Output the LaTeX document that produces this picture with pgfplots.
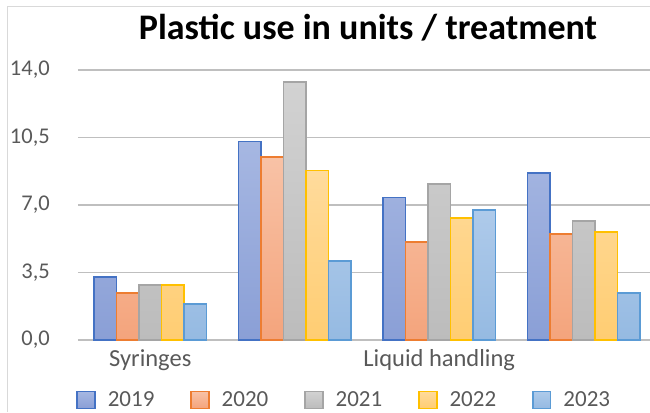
\documentclass[border=0pt]{standalone}
\usepackage{pgfplots}
\pgfplotsset{compat=1.18}
\usepackage{fontspec}
\setmainfont{Carlito}
\definecolor{txt}{HTML}{595959}
\definecolor{grid}{HTML}{D9D9D9}
\definecolor{eA}{HTML}{4472C4}\definecolor{tA}{HTML}{A6B7E2}\definecolor{bA}{HTML}{8A9FD6}
\definecolor{eB}{HTML}{ED7D31}\definecolor{tB}{HTML}{F8C2A6}\definecolor{bB}{HTML}{F4A47C}
\definecolor{eC}{HTML}{A5A5A5}\definecolor{tC}{HTML}{D2D2D2}\definecolor{bC}{HTML}{BCBCBC}
\definecolor{eD}{HTML}{FFC000}\definecolor{tD}{HTML}{FFDB9C}\definecolor{bD}{HTML}{FFCD72}
\definecolor{eE}{HTML}{5B9BD5}\definecolor{tE}{HTML}{AECAEA}\definecolor{bE}{HTML}{95BAE2}
\begin{document}
\begin{tikzpicture}[x=1pt,y=1pt]
\useasboundingbox (0,-412) rectangle (650,0);
\draw[grid, line width=1pt] (7,-412) -- (7,-7) -- (650,-7);
\node[font=\fontsize{36}{40}\selectfont\bfseries, text=black, anchor=base, inner sep=0pt] at (368,-40) {Plastic use in units / treatment};
\begin{axis}[
  at={(78pt,-340pt)}, anchor=south west,
  scale only axis, width=578pt, height=270pt,
  xmin=-0.5, xmax=3.5, ymin=0, ymax=14,
  ybar=0pt, bar width=22.5pt,
  axis line style={draw=none},
  major tick length=0pt, tick style={draw=none},
  xmajorgrids=false,
  ytick={0,3.5,7,10.5,14},
  ymajorgrids, grid style={grid, line width=1.5pt},
  xtick={0,1,2,3}, xticklabels={Syringes,{},Liquid handling,{}},
  /pgf/number format/assume math mode=true,
  yticklabel={\pgfmathprintnumber[fixed, fixed zerofill, precision=1, use comma]{\tick}},
  yticklabel style={anchor=east, inner sep=0pt, xshift=-28pt, font=\fontsize{22.5}{26}\selectfont, text=txt},
  xticklabel style={anchor=north, inner sep=0pt, yshift=-9pt, font=\fontsize{24.5}{28}\selectfont, text=txt},
  legend columns=5,
  legend style={at={(0.459,-0.222)}, anchor=center, draw=none, fill=none,
    font=\fontsize{23}{26}\selectfont, text=txt, nodes={inner sep=0pt},
    /tikz/every odd column/.append style={column sep=12pt},
    /tikz/every even column/.append style={column sep=36pt}},
  legend image code/.code={\draw[#1, line width=1.8pt] (0pt,-8.5pt) rectangle (17.5pt,8.5pt);},
  clip=false,
]
\addplot[draw=eA, line width=1.5pt, top color=tA, bottom color=bA] coordinates {(0,3.26) (1,10.3) (2,7.4) (3,8.65)};
\addplot[draw=eB, line width=1.5pt, top color=tB, bottom color=bB] coordinates {(0,2.43) (1,9.48) (2,5.08) (3,5.49)};
\addplot[draw=eC, line width=1.5pt, top color=tC, bottom color=bC] coordinates {(0,2.85) (1,13.37) (2,8.08) (3,6.17)};
\addplot[draw=eD, line width=1.5pt, top color=tD, bottom color=bD] coordinates {(0,2.85) (1,8.8) (2,6.32) (3,5.6)};
\addplot[draw=eE, line width=1.5pt, top color=tE, bottom color=bE] coordinates {(0,1.86) (1,4.1) (2,6.74) (3,2.43)};
\legend{2019,2020,2021,2022,2023}
\end{axis}
\end{tikzpicture}
\end{document}
